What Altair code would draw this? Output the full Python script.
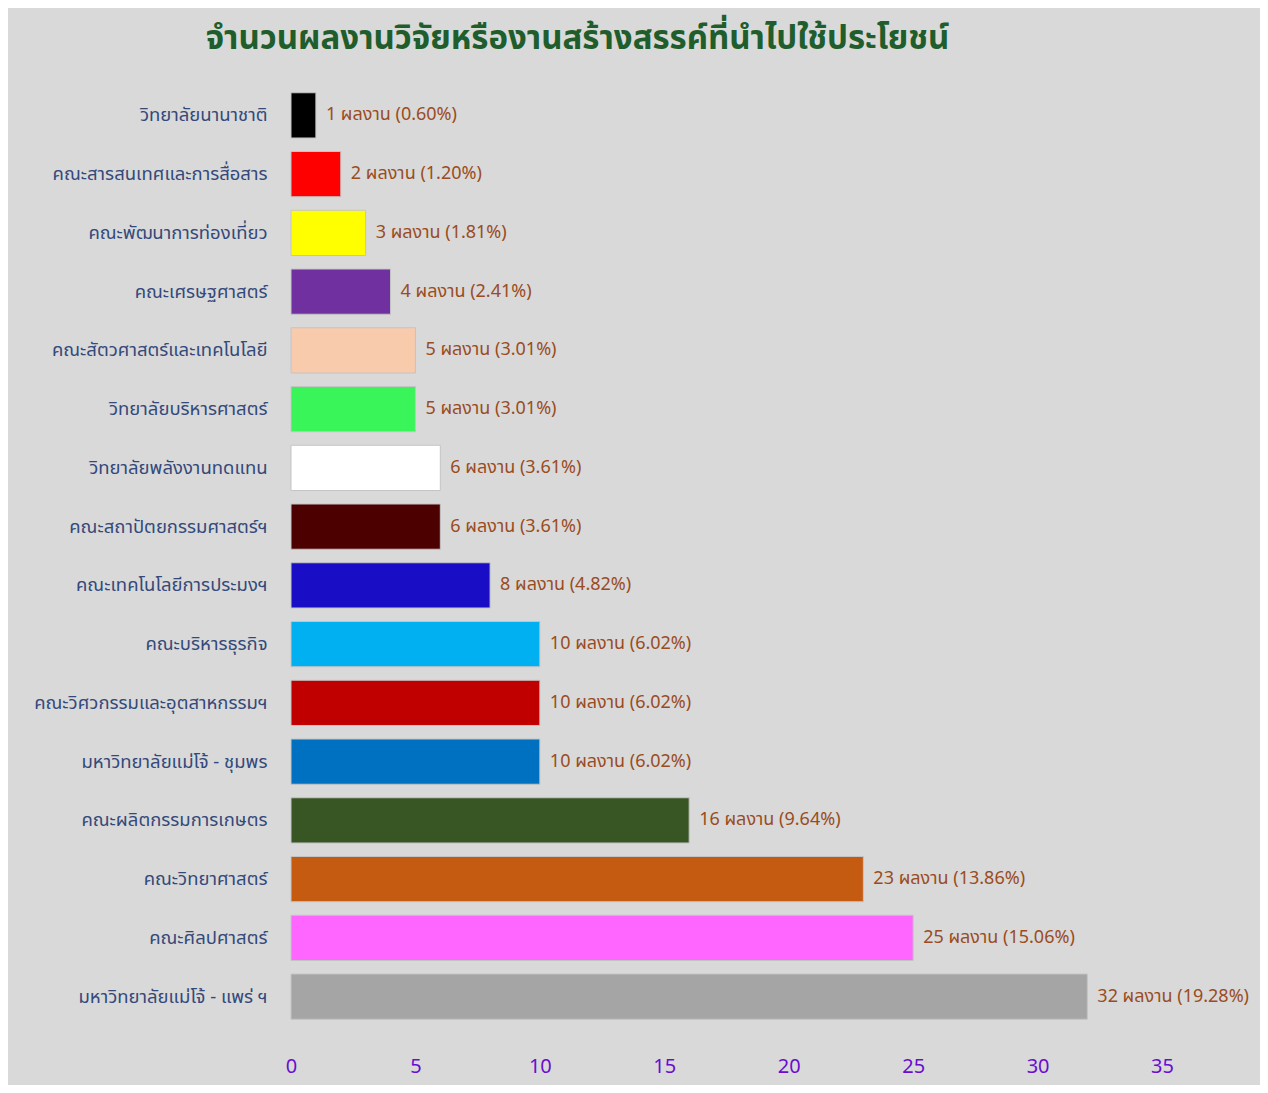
import altair as alt
import pandas as pd

categories = [
    "วิทยาลัยนานาชาติ",
    "คณะสารสนเทศและการสื่อสาร",
    "คณะพัฒนาการท่องเที่ยว",
    "คณะเศรษฐศาสตร์",
    "คณะสัตวศาสตร์และเทคโนโลยี",
    "วิทยาลัยบริหารศาสตร์",
    "วิทยาลัยพลังงานทดแทน",
    "คณะสถาปัตยกรรมศาสตร์ฯ",
    "คณะเทคโนโลยีการประมงฯ",
    "คณะบริหารธุรกิจ",
    "คณะวิศวกรรมและอุตสาหกรรมฯ",
    "มหาวิทยาลัยแม่โจ้ - ชุมพร",
    "คณะผลิตกรรมการเกษตร",
    "คณะวิทยาศาสตร์",
    "คณะศิลปศาสตร์",
    "มหาวิทยาลัยแม่โจ้ - แพร่ ฯ",
]
values = [1, 2, 3, 4, 5, 5, 6, 6, 8, 10, 10, 10, 16, 23, 25, 32]
percents = ["0.60%", "1.20%", "1.81%", "2.41%", "3.01%", "3.01%", "3.61%", "3.61%",
            "4.82%", "6.02%", "6.02%", "6.02%", "9.64%", "13.86%", "15.06%", "19.28%"]
colors = ["#000000", "#ff0000", "#ffff00", "#7030a0", "#f8cbad", "#39f55a", "#ffffff",
          "#4d0000", "#1a0dc6", "#00b0f0", "#c00000", "#0070c0", "#375623", "#c55a11",
          "#ff66ff", "#a5a5a5"]

df = pd.DataFrame({
    "category": categories,
    "value": values,
    "pct": percents,
    "color": colors,
})
df["label"] = df["value"].astype(str) + " ผลงาน (" + df["pct"] + ")"

FONT = "Tahoma, 'Noto Sans Thai', 'Noto Sans', sans-serif"

y_enc = alt.Y("category:N", sort=categories,
              scale=alt.Scale(paddingInner=0.23, paddingOuter=0.115),
              axis=alt.Axis(title=None, labelFont=FONT, labelFontSize=18.5,
                            labelColor="#34497a", labelPadding=24,
                            ticks=False, domain=False, labelLimit=400))
x_enc = alt.X("value:Q", scale=alt.Scale(domain=[0, 35], nice=False),
              axis=alt.Axis(title=None, values=[0, 5, 10, 15, 20, 25, 30, 35],
                            labelFont=FONT, labelFontSize=20, labelColor="#6a0dd0",
                            labelPadding=30, ticks=False, domain=False, grid=False,
                            labelFlush=False))

bars = alt.Chart(df).mark_bar(stroke="#c4c4c4", strokeWidth=1).encode(
    x=x_enc,
    y=y_enc,
    color=alt.Color("color:N", scale=None),
)

text = alt.Chart(df).mark_text(align="left", baseline="middle", dx=10,
                               font=FONT, fontSize=18, color="#9a4c1e").encode(
    x="value:Q",
    y=alt.Y("category:N", sort=categories),
    text="label:N",
)

chart = alt.layer(bars, text).properties(
    width=871,
    height=940,
    background="#d9d9d9",
    padding={"left": 283, "top": 78, "right": 98, "bottom": 59},
    autosize=alt.AutoSizeParams(type="none"),
    title=alt.TitleParams(
        "จำนวนผลงานวิจัยหรืองานสร้างสรรค์ที่นำไปใช้ประโยชน์",
        font=FONT, fontSize=33, fontWeight="bold", color="#1f5e2c",
        anchor="start", dx=172, offset=30,
    ),
).configure_view(stroke=None)

chart.save("out.html", embed_options={"renderer": "svg", "actions": False})
